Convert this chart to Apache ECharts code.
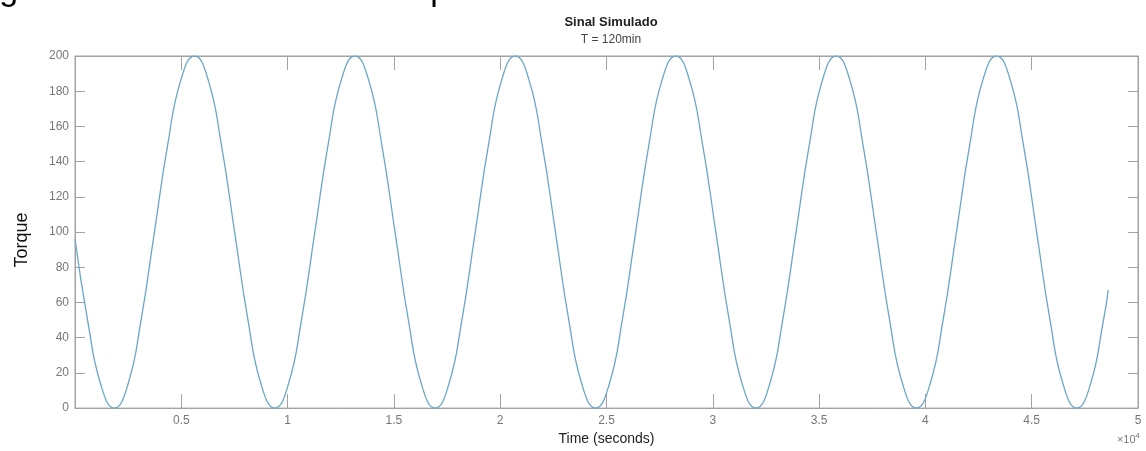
<!DOCTYPE html>
<html>
<head>
<meta charset="utf-8">
<script src="https://cdn.jsdelivr.net/npm/echarts@6/dist/echarts.min.js"></script>
<style>
	html, body { margin: 0; padding: 0; background: #fff; }
	#chart1 { width: 1146px; height: 451px; }
</style>
</head>
<body>
<div id="chart1"></div>
<script>
// tempo (s) e torque
var time = [0, 592, 1221,
	1850, 2479, 3107, 3736, 4365, 4994, 5622, 6251, 6880, 7509, 8137, 8766,
	9395, 10024, 10652, 11281, 11910, 12539, 13167, 13796, 14425, 15054, 15682, 16311,
	16940, 17569, 18197, 18826, 19455, 20084, 20712, 21341, 21970, 22599, 23227, 23856,
	24485, 25114, 25742, 26371, 27000, 27629, 28257, 28886, 29515, 30144, 30772, 31401,
	32030, 32659, 33287, 33916, 34545, 35174, 35802, 36431, 37060, 37689, 38317, 38946,
	39575, 40204, 40832, 41461, 42090, 42719, 43347, 43976, 44605, 45234, 45862, 46491,
	47120, 47749, 48377, 48600];
var torque = [96, 50, 13,
	0, 13, 50, 100, 150, 187, 200, 187, 150, 100, 50, 13,
	0, 13, 50, 100, 150, 187, 200, 187, 150, 100, 50, 13,
	0, 13, 50, 100, 150, 187, 200, 187, 150, 100, 50, 13,
	0, 13, 50, 100, 150, 187, 200, 187, 150, 100, 50, 13,
	0, 13, 50, 100, 150, 187, 200, 187, 150, 100, 50, 13,
	0, 13, 50, 100, 150, 187, 200, 187, 150, 100, 50, 13,
	0, 13, 50, 67];
var xTicks = ['', '0.5', '1', '1.5', '2', '2.5', '3', '3.5', '4', '4.5', '5'];

function chart1() {
	var myChart = echarts.init(document.getElementById('chart1'));
	var data = [];
	for(var i = 0; i < time.length; i++) {
		data.push([time[i], torque[i]]);
	}
	var axisGrey = '#a3a3a3';
	var narrow = '"Liberation Sans Narrow", "Liberation Sans", Arial, sans-serif';

	var option = {
		animation: false,
		title: [{
			text: 'Sinal Simulado',
			left: 606,
			top: 11,
			textAlign: 'center',
			textStyle: { fontFamily: narrow, fontSize: 13, fontWeight: 'bold', color: '#222' }
		}, {
			text: 'T = 120min',
			left: 606,
			top: 29,
			textAlign: 'center',
			textStyle: { fontFamily: narrow, fontSize: 12, fontWeight: 'normal', color: '#444' }
		}],
		graphic: [{
			type: 'text',
			x: -29,
			y: -26,
			z: 10,
			style: {
				text: 'Figura 6 - Sinal simulado com período de 120 minutos',
				fontFamily: '"Liberation Sans", Arial, sans-serif',
				fontSize: 34,
				fill: '#000'
			}
		}, {
			type: 'text',
			right: 6,
			top: 432,
			style: {
				text: '×10{s|4}',
				fontFamily: narrow,
				fontSize: 11,
				fill: '#777',
				rich: { s: { fontSize: 8, verticalAlign: 'top', padding: [0, 0, 8, 0], fill: '#777' } }
			}
		}],
		grid: {
			left: 75,
			right: 8,
			top: 56,
			bottom: 39,
			show: true,
			borderColor: axisGrey,
			borderWidth: 1
		},
		xAxis: [{
			type: 'value',
			min: 0,
			max: 50000,
			interval: 5000,
			name: 'Time (seconds)',
			nameLocation: 'middle',
			nameGap: 21,
			nameTextStyle: { fontFamily: narrow, fontSize: 14, color: '#222' },
			axisLine: { show: true, onZero: false, lineStyle: { color: axisGrey } },
			axisTick: { inside: true, length: 14, lineStyle: { color: axisGrey } },
			splitLine: { show: false },
			axisLabel: {
				fontFamily: narrow, fontSize: 12, color: '#777', margin: 7,
				formatter: function(v) { return xTicks[Math.round(v / 5000)]; }
			}
		}, {
			type: 'value',
			position: 'top',
			min: 0,
			max: 50000,
			interval: 5000,
			axisLine: { show: true, onZero: false, lineStyle: { color: axisGrey } },
			axisTick: { inside: true, length: 14, lineStyle: { color: axisGrey } },
			splitLine: { show: false },
			axisLabel: { show: false }
		}],
		yAxis: [{
			type: 'value',
			min: 0,
			max: 200,
			interval: 20,
			name: 'Torque',
			nameLocation: 'middle',
			nameGap: 44,
			nameTextStyle: { fontFamily: '"Liberation Sans", Arial, sans-serif', fontSize: 18, color: '#111', padding: [0, 16, 0, 0] },
			axisLine: { show: true, onZero: false, lineStyle: { color: axisGrey } },
			axisTick: { inside: true, length: 10, lineStyle: { color: axisGrey } },
			splitLine: { show: false },
			axisLabel: { fontFamily: narrow, fontSize: 12, color: '#777', margin: 6 }
		}, {
			type: 'value',
			position: 'right',
			min: 0,
			max: 200,
			interval: 20,
			axisLine: { show: true, onZero: false, lineStyle: { color: axisGrey } },
			axisTick: { inside: true, length: 10, lineStyle: { color: axisGrey } },
			splitLine: { show: false },
			axisLabel: { show: false }
		}],
		series: [{
			name: 'Torque',
			type: 'line',
			xAxisIndex: 0,
			yAxisIndex: 0,
			smooth: true,
			showSymbol: false,
			lineStyle: { color: '#6aa7c6', width: 1.3 },
			data: data
		}]
	};

	myChart.setOption(option);
}

chart1();
</script>
</body>
</html>
